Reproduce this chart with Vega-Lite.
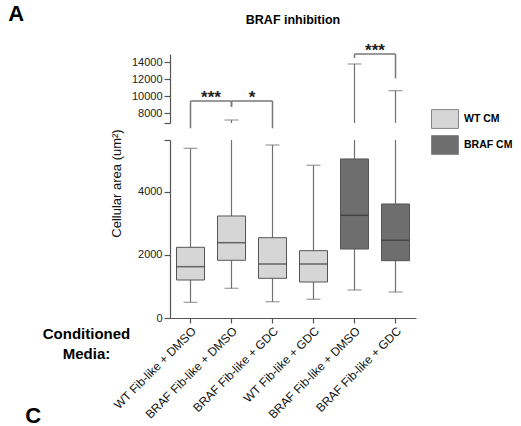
{
  "$schema": "https://vega.github.io/schema/vega-lite/v6.json",
  "padding": {"left": 8, "top": 2, "right": 0, "bottom": 0},
  "config": {
    "font": "Liberation Sans",
    "view": {"stroke": null},
    "axis": {"domainColor": "#555", "tickColor": "#555", "labelColor": "#222", "labelFontSize": 11, "tickSize": 6, "grid": false, "domainWidth": 1.2, "tickWidth": 1.2, "labelPadding": 2}
  },
  "datasets": {
    "boxes": [
      {"id": "WT CM|WT Fib-like + DMSO", "media": "WT CM", "min": 498, "q1": 1206, "median": 1629, "q3": 2244, "max": 5387},
      {"id": "WT CM|BRAF Fib-like + DMSO", "media": "WT CM", "min": 943, "q1": 1832, "median": 2390, "q3": 3238, "max": 7204},
      {"id": "WT CM|BRAF Fib-like + GDC", "media": "WT CM", "min": 517, "q1": 1260, "median": 1714, "q3": 2549, "max": 5492},
      {"id": "WT CM|WT Fib-like + GDC", "media": "WT CM", "min": 594, "q1": 1143, "median": 1714, "q3": 2137, "max": 4848},
      {"id": "BRAF CM|BRAF Fib-like + DMSO", "media": "BRAF CM", "min": 889, "q1": 2190, "median": 3260, "q3": 5048, "max": 13819},
      {"id": "BRAF CM|BRAF Fib-like + GDC", "media": "BRAF CM", "min": 825, "q1": 1819, "median": 2467, "q3": 3619, "max": 10665}
    ],
    "brackets": [
      {"from": "WT CM|WT Fib-like + DMSO", "to": "WT CM|BRAF Fib-like + DMSO", "top": 9449, "leftEnd": 6224, "rightEnd": 8775, "label": "***"},
      {"from": "WT CM|BRAF Fib-like + DMSO", "to": "WT CM|BRAF Fib-like + GDC", "top": 9449, "leftEnd": 8775, "rightEnd": 6224, "label": "*"},
      {"from": "BRAF CM|BRAF Fib-like + DMSO", "to": "BRAF CM|BRAF Fib-like + GDC", "top": 15000, "leftEnd": 14528, "rightEnd": 12130, "label": "***"}
    ]
  },
  "title": {"text": "A", "anchor": "start", "frame": "bounds", "fontSize": 22, "fontWeight": "bold", "color": "#000", "dx": -17, "dy": 12, "offset": 0},
  "vconcat": [
    {
      "width": 246,
      "height": 69,
      "title": {"text": "BRAF inhibition", "anchor": "middle", "frame": "group", "fontSize": 12.5, "fontWeight": "bold", "color": "#000", "offset": 16},
      "layer": [
        {
          "data": {"name": "boxes"},
          "mark": {"type": "rule", "clip": true, "color": "#707070", "strokeWidth": 1.2},
          "encoding": {
            "x": {"field": "id", "type": "nominal", "scale": {"domain": ["WT CM|WT Fib-like + DMSO", "WT CM|BRAF Fib-like + DMSO", "WT CM|BRAF Fib-like + GDC", "WT CM|WT Fib-like + GDC", "BRAF CM|BRAF Fib-like + DMSO", "BRAF CM|BRAF Fib-like + GDC"]}, "axis": null},
            "y": {"field": "min", "type": "quantitative", "scale": {"domain": [6850, 15000], "nice": false, "zero": false}, "axis": {"values": [6850, 8000, 10000, 12000, 14000], "format": "d", "labelExpr": "datum.value < 7000 ? '' : datum.label", "title": null}},
            "y2": {"field": "max"}
          }
        },
        {
          "data": {"name": "boxes"},
          "mark": {"type": "tick", "clip": true, "color": "#707070", "size": 14, "thickness": 1.2},
          "encoding": {
            "x": {"field": "id", "type": "nominal", "scale": {"domain": ["WT CM|WT Fib-like + DMSO", "WT CM|BRAF Fib-like + DMSO", "WT CM|BRAF Fib-like + GDC", "WT CM|WT Fib-like + GDC", "BRAF CM|BRAF Fib-like + DMSO", "BRAF CM|BRAF Fib-like + GDC"]}, "axis": null},
            "y": {"field": "max", "type": "quantitative", "scale": {"domain": [6850, 15000], "nice": false, "zero": false}, "axis": {"values": [6850, 8000, 10000, 12000, 14000], "format": "d", "labelExpr": "datum.value < 7000 ? '' : datum.label", "title": null}}
          }
        },
        {
          "data": {"name": "brackets"},
          "mark": {"type": "rule", "color": "#777", "strokeWidth": 1.5},
          "encoding": {
            "x": {"field": "from", "type": "nominal", "scale": {"domain": ["WT CM|WT Fib-like + DMSO", "WT CM|BRAF Fib-like + DMSO", "WT CM|BRAF Fib-like + GDC", "WT CM|WT Fib-like + GDC", "BRAF CM|BRAF Fib-like + DMSO", "BRAF CM|BRAF Fib-like + GDC"]}, "axis": null},
            "x2": {"field": "to"},
            "y": {"field": "top", "type": "quantitative", "scale": {"domain": [6850, 15000], "nice": false, "zero": false}, "axis": {"values": [6850, 8000, 10000, 12000, 14000], "format": "d", "labelExpr": "datum.value < 7000 ? '' : datum.label", "title": null}}
          }
        },
        {
          "data": {"name": "brackets"},
          "mark": {"type": "rule", "color": "#777", "strokeWidth": 1.5},
          "encoding": {
            "x": {"field": "from", "type": "nominal", "scale": {"domain": ["WT CM|WT Fib-like + DMSO", "WT CM|BRAF Fib-like + DMSO", "WT CM|BRAF Fib-like + GDC", "WT CM|WT Fib-like + GDC", "BRAF CM|BRAF Fib-like + DMSO", "BRAF CM|BRAF Fib-like + GDC"]}, "axis": null},
            "y": {"field": "top", "type": "quantitative", "scale": {"domain": [6850, 15000], "nice": false, "zero": false}, "axis": {"values": [6850, 8000, 10000, 12000, 14000], "format": "d", "labelExpr": "datum.value < 7000 ? '' : datum.label", "title": null}},
            "y2": {"field": "leftEnd"}
          }
        },
        {
          "data": {"name": "brackets"},
          "mark": {"type": "rule", "color": "#777", "strokeWidth": 1.5},
          "encoding": {
            "x": {"field": "to", "type": "nominal", "scale": {"domain": ["WT CM|WT Fib-like + DMSO", "WT CM|BRAF Fib-like + DMSO", "WT CM|BRAF Fib-like + GDC", "WT CM|WT Fib-like + GDC", "BRAF CM|BRAF Fib-like + DMSO", "BRAF CM|BRAF Fib-like + GDC"]}, "axis": null},
            "y": {"field": "top", "type": "quantitative", "scale": {"domain": [6850, 15000], "nice": false, "zero": false}, "axis": {"values": [6850, 8000, 10000, 12000, 14000], "format": "d", "labelExpr": "datum.value < 7000 ? '' : datum.label", "title": null}},
            "y2": {"field": "rightEnd"}
          }
        },
        {
          "data": {"name": "brackets"},
          "mark": {"type": "text", "xOffset": 20.5, "dy": 2, "baseline": "alphabetic", "fontSize": 17, "fontWeight": "bold", "color": "#222"},
          "encoding": {
            "x": {"field": "from", "type": "nominal", "scale": {"domain": ["WT CM|WT Fib-like + DMSO", "WT CM|BRAF Fib-like + DMSO", "WT CM|BRAF Fib-like + GDC", "WT CM|WT Fib-like + GDC", "BRAF CM|BRAF Fib-like + DMSO", "BRAF CM|BRAF Fib-like + GDC"]}, "axis": null},
            "y": {"field": "top", "type": "quantitative", "scale": {"domain": [6850, 15000], "nice": false, "zero": false}, "axis": {"values": [6850, 8000, 10000, 12000, 14000], "format": "d", "labelExpr": "datum.value < 7000 ? '' : datum.label", "title": null}},
            "text": {"field": "label"}
          }
        }
      ]
    },
    {
      "width": 246,
      "height": 178,
      "title": {"text": "C", "orient": "bottom", "anchor": "start", "frame": "bounds", "fontSize": 22, "fontWeight": "bold", "color": "#000", "dx": -17, "dy": -14, "offset": 0},
      "data": {"name": "boxes"},
      "encoding": {
        "x": {"field": "id", "type": "nominal", "scale": {"domain": ["WT CM|WT Fib-like + DMSO", "WT CM|BRAF Fib-like + DMSO", "WT CM|BRAF Fib-like + GDC", "WT CM|WT Fib-like + GDC", "BRAF CM|BRAF Fib-like + DMSO", "BRAF CM|BRAF Fib-like + GDC"]}, "axis": {"labelAngle": -45, "labelExpr": "split(datum.label, '|')[1]", "labelFontSize": 12, "labelColor": "#111", "tickSize": 5, "labelPadding": 2, "title": ["Conditioned", "Media:"], "titleFontSize": 15, "titleFontWeight": "bold", "titleColor": "#000", "titleX": -84, "titleY": 8, "titleAlign": "center", "titleBaseline": "top", "titleAngle": 0, "titleLineHeight": 20}}
      },
      "layer": [
        {
          "mark": {"type": "rule", "clip": true, "color": "#707070", "strokeWidth": 1.2},
          "encoding": {
            "y": {"field": "min", "type": "quantitative", "scale": {"domain": [0, 5650], "nice": false, "zero": false}, "axis": {"values": [0, 2000, 4000, 5650], "format": "d", "labelExpr": "datum.value > 5000 ? '' : datum.label", "title": "Cellular area (um²)", "titleFontSize": 13, "titleFontWeight": "normal", "titleColor": "#111", "titleX": -54, "titleY": 43, "titleAlign": "center", "titleBaseline": "middle", "titleAngle": -90}},
            "y2": {"field": "max"}
          }
        },
        {
          "mark": {"type": "tick", "clip": true, "color": "#707070", "size": 14, "thickness": 1.2},
          "encoding": {
            "y": {"field": "min", "type": "quantitative", "scale": {"domain": [0, 5650], "nice": false, "zero": false}, "axis": {"values": [0, 2000, 4000, 5650], "format": "d", "labelExpr": "datum.value > 5000 ? '' : datum.label", "title": "Cellular area (um²)", "titleFontSize": 13, "titleFontWeight": "normal", "titleColor": "#111", "titleX": -54, "titleY": 43, "titleAlign": "center", "titleBaseline": "middle", "titleAngle": -90}}
          }
        },
        {
          "mark": {"type": "tick", "clip": true, "color": "#707070", "size": 14, "thickness": 1.2},
          "encoding": {
            "y": {"field": "max", "type": "quantitative", "scale": {"domain": [0, 5650], "nice": false, "zero": false}, "axis": {"values": [0, 2000, 4000, 5650], "format": "d", "labelExpr": "datum.value > 5000 ? '' : datum.label", "title": "Cellular area (um²)", "titleFontSize": 13, "titleFontWeight": "normal", "titleColor": "#111", "titleX": -54, "titleY": 43, "titleAlign": "center", "titleBaseline": "middle", "titleAngle": -90}}
          }
        },
        {
          "mark": {"type": "bar", "size": 28, "stroke": "#555", "strokeWidth": 1},
          "encoding": {
            "y": {"field": "q1", "type": "quantitative", "scale": {"domain": [0, 5650], "nice": false, "zero": false}, "axis": {"values": [0, 2000, 4000, 5650], "format": "d", "labelExpr": "datum.value > 5000 ? '' : datum.label", "title": "Cellular area (um²)", "titleFontSize": 13, "titleFontWeight": "normal", "titleColor": "#111", "titleX": -54, "titleY": 43, "titleAlign": "center", "titleBaseline": "middle", "titleAngle": -90}},
            "y2": {"field": "q3"},
            "color": {"field": "media", "type": "nominal", "scale": {"domain": ["WT CM", "BRAF CM"], "range": ["#d6d6d6", "#6e6e6e"]}, "legend": {"orient": "none", "legendX": 261, "legendY": 51, "title": null, "symbolType": "M-1,-0.7H1V0.7H-1Z", "symbolSize": 729, "symbolStrokeColor": "#888", "symbolStrokeWidth": 1, "labelFontSize": 10.5, "labelFontWeight": "bold", "labelColor": "#000", "labelOffset": 5, "rowPadding": -3}}
          }
        },
        {
          "mark": {"type": "tick", "size": 28, "thickness": 1.5, "color": "#333"},
          "encoding": {
            "y": {"field": "median", "type": "quantitative", "scale": {"domain": [0, 5650], "nice": false, "zero": false}, "axis": {"values": [0, 2000, 4000, 5650], "format": "d", "labelExpr": "datum.value > 5000 ? '' : datum.label", "title": "Cellular area (um²)", "titleFontSize": 13, "titleFontWeight": "normal", "titleColor": "#111", "titleX": -54, "titleY": 43, "titleAlign": "center", "titleBaseline": "middle", "titleAngle": -90}}
          }
        }
      ]
    }
  ],
  "spacing": 17,
  "bounds": "flush",
  "resolve": {"scale": {"x": "independent", "y": "independent"}}
}
